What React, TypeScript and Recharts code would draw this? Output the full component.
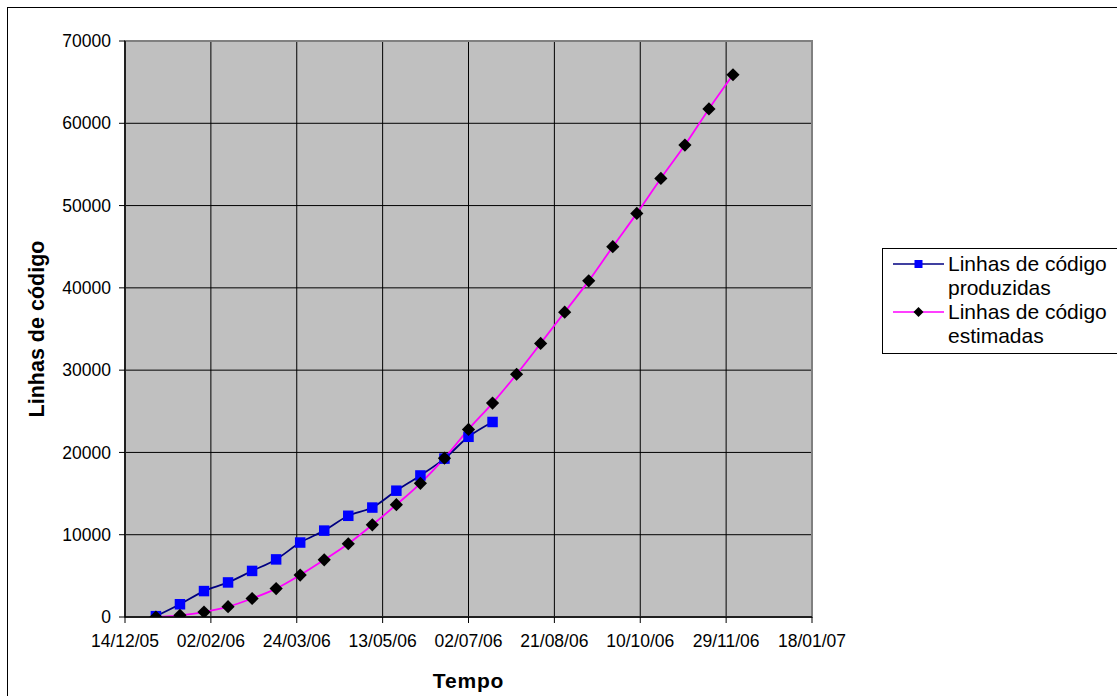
import React from 'react';
import { LineChart, Line, XAxis, YAxis, CartesianGrid, Legend, ReferenceArea } from 'recharts';

// ---- Data ----
const dates = [
  '01/01/06', '15/01/06', '29/01/06', '12/02/06', '26/02/06', '12/03/06', '26/03/06',
  '09/04/06', '23/04/06', '07/05/06', '21/05/06', '04/06/06', '18/06/06', '02/07/06',
  '16/07/06', '30/07/06', '13/08/06', '27/08/06', '10/09/06', '24/09/06', '08/10/06',
  '22/10/06', '05/11/06', '19/11/06', '03/12/06',
];
const producedLines = [
  100, 1550, 3150, 4200, 5600, 7000, 9050, 10500, 12300, 13300, 15350, 17200, 19250, 21900, 23700,
];
const estimatedLines = [
  0, 200, 600, 1250, 2250, 3450, 5100, 6950, 8900, 11200, 13650, 16250, 19300, 22800, 26000,
  29500, 33250, 37050, 40850, 45000, 49050, 53300, 57350, 61750, 65900,
];
const xTickLabels = [
  '14/12/05', '02/02/06', '24/03/06', '13/05/06', '02/07/06', '21/08/06', '10/10/06', '29/11/06', '18/01/07',
];
const yTicks = [0, 10000, 20000, 30000, 40000, 50000, 60000, 70000];
const seriesNames = ['Linhas de código produzidas', 'Linhas de código estimadas'];

// ---- Helpers ----
const parseDate = (s: string) => {
  const [d, m, y] = s.split('/').map(Number);
  return Date.UTC(2000 + y, m - 1, d);
};
const pad = (n: number) => (n < 10 ? '0' + n : '' + n);
const formatDate = (v: number) => {
  const dt = new Date(v);
  return `${pad(dt.getUTCDate())}/${pad(dt.getUTCMonth() + 1)}/${pad(dt.getUTCFullYear() % 100)}`;
};

const xTicks = xTickLabels.map(parseDate);
const producedData = producedLines.map((v, i) => ({ t: parseDate(dates[i]), v }));
const estimatedData = estimatedLines.map((v, i) => ({ t: parseDate(dates[i]), v }));

const FONT = '"Liberation Sans", Arial, sans-serif';

const SquareDot = (props: any) => {
  const { cx, cy, index } = props;
  if (cx == null || cy == null) return <g key={`s-${index}`} />;
  return <rect key={`s-${index}`} x={cx - 5.25} y={cy - 5.25} width={10.5} height={10.5} fill="#0000FF" />;
};
const DiamondDot = (props: any) => {
  const { cx, cy, index } = props;
  if (cx == null || cy == null) return <g key={`d-${index}`} />;
  const r = 6.6;
  return (
    <polygon
      key={`d-${index}`}
      points={`${cx},${cy - r} ${cx + r},${cy} ${cx},${cy + r} ${cx - r},${cy}`}
      fill="#000000"
    />
  );
};

const YLabel = (props: any) => {
  const vb = props.viewBox || { x: 0, y: 41, width: 125, height: 576 };
  const cx = vb.x + 44;
  const cy = vb.y + vb.height / 2;
  return (
    <text
      x={cx}
      y={cy}
      transform={`rotate(-90 ${cx} ${cy})`}
      textAnchor="middle"
      fontFamily={FONT}
      fontWeight="bold"
      fontSize={21.5}
      fill="#000"
    >
      Linhas de código
    </text>
  );
};

const XLabel = (props: any) => {
  const vb = props.viewBox || { x: 125, y: 617, width: 687, height: 79 };
  const cx = vb.x + vb.width / 2;
  const cy = vb.y + 71;
  return (
    <text
      x={cx}
      y={cy}
      textAnchor="middle"
      fontFamily={FONT}
      fontWeight="bold"
      fontSize={21}
      letterSpacing={0.8}
      fill="#000"
    >
      Tempo
    </text>
  );
};

const LegendBox = () => {
  const items = [
    { name: seriesNames[0], line: '#000080', marker: 'square' },
    { name: seriesNames[1], line: '#FF00FF', marker: 'diamond' },
  ];
  return (
    <div
      style={{
        width: 260,
        height: 106,
        border: '1px solid #000',
        background: '#fff',
        boxSizing: 'border-box',
        paddingTop: 3,
        fontFamily: FONT,
        fontSize: 21,
        lineHeight: '24px',
        color: '#000',
      }}
    >
      {items.map((it) => (
        <div key={it.name} style={{ position: 'relative', height: 48 }}>
          <svg width={54} height={24} style={{ position: 'absolute', left: 9, top: 0 }}>
            <line x1={1} y1={12} x2={52} y2={12} stroke={it.line} strokeWidth={1.5} />
            {it.marker === 'square' ? (
              <rect x={22.5} y={8} width={8} height={8} fill="#0000FF" />
            ) : (
              <polygon points="26.5,7 31.5,12 26.5,17 21.5,12" fill="#000" />
            )}
          </svg>
          <div style={{ position: 'absolute', left: 65, top: 0, width: 172 }}>{it.name}</div>
        </div>
      ))}
    </div>
  );
};

export default function App() {
  return (
    <div
      style={{
        position: 'absolute',
        left: 0,
        top: 0,
        width: 1117,
        height: 696,
        overflow: 'hidden',
        background: '#fff',
        fontFamily: FONT,
      }}
    >
      <div
        style={{
          position: 'absolute',
          left: 7,
          top: 7,
          width: 1300,
          height: 900,
          border: '1px solid #000',
        }}
      />
      <div style={{ position: 'absolute', left: 0, top: 0 }}>
        <LineChart
          width={1117}
          height={696}
          margin={{ top: 41, right: 305, left: 0, bottom: 0 }}
        >
          <CartesianGrid fill="#C0C0C0" stroke="#000" strokeOpacity={1} strokeWidth={1} />
          <ReferenceArea
            x1={xTicks[0]}
            x2={xTicks[xTicks.length - 1]}
            y1={0}
            y2={70000}
            fill="none"
            stroke="#808080"
            strokeWidth={2}
            isFront={false}
          />
          <XAxis
            type="number"
            dataKey="t"
            domain={[xTicks[0], xTicks[xTicks.length - 1]]}
            ticks={xTicks}
            tickFormatter={formatDate}
            interval={0}
            height={79}
            tickSize={6}
            tickMargin={12}
            allowDataOverflow
            stroke="#000"
            tick={{ fill: '#000', fontSize: 17.5, fontFamily: FONT }}
            axisLine={{ stroke: '#000', strokeWidth: 1.5 }}
            tickLine={{ stroke: '#000' }}
            label={<XLabel />}
          />
          <YAxis
            type="number"
            domain={[0, 70000]}
            ticks={yTicks}
            interval={0}
            width={125}
            tickSize={6}
            tickMargin={8}
            allowDataOverflow
            stroke="#000"
            tick={{ fill: '#000', fontSize: 17.5, fontFamily: FONT }}
            axisLine={{ stroke: '#000', strokeWidth: 1.5 }}
            tickLine={{ stroke: '#000' }}
            label={<YLabel />}
          />
          <Legend
            layout="horizontal"
            align="center"
            verticalAlign="middle"
            content={<LegendBox />}
            wrapperStyle={{ left: 882, top: 248, width: 260, height: 106 }}
          />
          <Line
            data={producedData}
            dataKey="v"
            name={seriesNames[0]}
            type="monotone"
            stroke="#000080"
            strokeWidth={1.8}
            dot={SquareDot}
            activeDot={false}
            isAnimationActive={false}
          />
          <Line
            data={estimatedData}
            dataKey="v"
            name={seriesNames[1]}
            type="monotone"
            stroke="#FF00FF"
            strokeWidth={1.8}
            dot={DiamondDot}
            activeDot={false}
            isAnimationActive={false}
          />
        </LineChart>
      </div>
    </div>
  );
}
